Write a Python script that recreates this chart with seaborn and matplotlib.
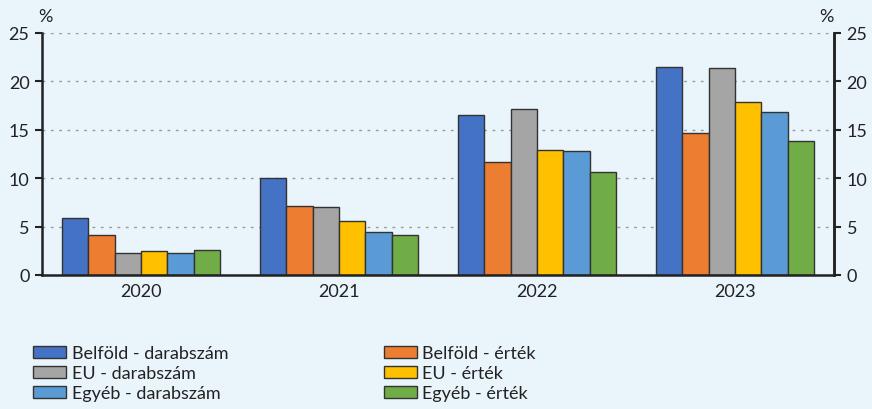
import pandas as pd
import numpy as np
import matplotlib
matplotlib.use("Agg")
import matplotlib.pyplot as plt
import seaborn as sns

years = ["2020", "2021", "2022", "2023"]
series = ["Belföld - darabszám", "Belföld - érték", "EU - darabszám",
          "EU - érték", "Egyéb - darabszám", "Egyéb - érték"]
belfold_db = [5.9, 10.0, 16.5, 21.5]
belfold_ertek = [4.1, 7.1, 11.7, 14.7]
eu_db = [2.3, 7.0, 17.1, 21.4]
eu_ertek = [2.5, 5.6, 12.9, 17.9]
egyeb_db = [2.3, 4.4, 12.8, 16.8]
egyeb_ertek = [2.6, 4.1, 10.6, 13.8]
colors = ["#4472C4", "#ED7D31", "#A5A5A5", "#FFC000", "#5B9BD5", "#70AD47"]

values = [belfold_db, belfold_ertek, eu_db, eu_ertek, egyeb_db, egyeb_ertek]
rows = []
for name, vals in zip(series, values):
    for y, v in zip(years, vals):
        rows.append({"year": y, "series": name, "value": v})
df = pd.DataFrame(rows)

bg = "#E9F4FB"
ink = "#222222"
sns.set_style("white")
plt.rcParams["font.family"] = ["Lato", "DejaVu Sans"]
plt.rcParams["font.size"] = 13

fig = plt.figure(figsize=(8.72, 4.10), dpi=100, facecolor=bg)
ax = fig.add_axes([42 / 872, 1 - 276 / 410, (834 - 42) / 872, (276 - 34) / 410])
ax.set_facecolor(bg)

sns.barplot(data=df, x="year", y="value", hue="series", hue_order=series,
            palette=colors, saturation=1, width=0.8, edgecolor="#333333",
            linewidth=1, ax=ax, legend=True)

ax.set_ylim(0, 25)
ax.set_xlim(-0.5, 3.5)
ax.set_xlabel("")
ax.set_ylabel("")
ax.set_yticks(range(0, 26, 5))
for v in range(5, 26, 5):
    ax.axhline(v, color="#9A9A9A", linestyle=(0, (2, 4)), linewidth=1, zorder=0)

# x ticks between groups, labels centred
ax.set_xticks([-0.5, 0.5, 1.5, 2.5, 3.5], minor=False)
ax.set_xticklabels([])
ax.set_xticks([0, 1, 2, 3], minor=True)
ax.set_xticklabels(years, minor=True)
ax.tick_params(axis="x", which="major", direction="out", length=6, width=1.5, color=ink)
ax.tick_params(axis="x", which="minor", length=0, pad=6, labelsize=13, labelcolor=ink)
ax.tick_params(axis="y", direction="out", length=5, width=1.5, color=ink, labelsize=13,
               labelcolor=ink, pad=4)

ax.spines["top"].set_visible(False)
for s in ["left", "right", "bottom"]:
    ax.spines[s].set_color(ink)
    ax.spines[s].set_linewidth(1.8)

ax2 = ax.twinx()
ax2.set_ylim(0, 25)
ax2.set_yticks(range(0, 26, 5))
ax2.tick_params(axis="y", direction="out", length=5, width=1.5, color=ink, labelsize=13,
                labelcolor=ink, pad=4)
for s in ["top", "left", "bottom"]:
    ax2.spines[s].set_visible(False)
ax2.spines["right"].set_color(ink)
ax2.spines["right"].set_linewidth(1.8)

fig.text(45 / 872, 1 - 17 / 410, "%", ha="center", va="center", fontsize=13, color=ink)
fig.text(826 / 872, 1 - 17 / 410, "%", ha="center", va="center", fontsize=13, color=ink)

handles, labels = ax.get_legend_handles_labels()
ax.get_legend().remove()
order = [0, 2, 4, 1, 3, 5]
leg = fig.legend([handles[i] for i in order], [labels[i] for i in order], ncol=2,
                 loc="upper left", bbox_to_anchor=(33 / 872, 1 - 346 / 410),
                 frameon=False, fontsize=13, handlelength=1.85, handleheight=0.65,
                 handletextpad=0.3, labelspacing=0.22, columnspacing=8.6,
                 borderaxespad=0, borderpad=0)
for t in leg.get_texts():
    t.set_color(ink)

fig.savefig("out.png", dpi=100, facecolor=bg)
plt.close()
